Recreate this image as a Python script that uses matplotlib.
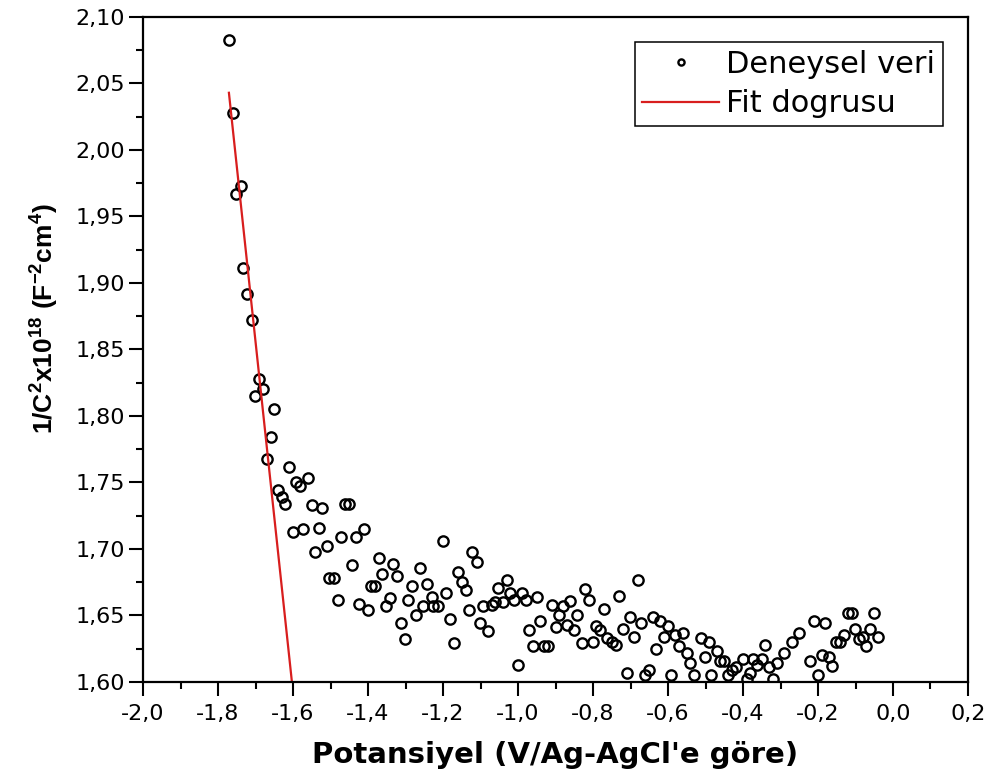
import matplotlib
matplotlib.use("Agg")
import matplotlib.pyplot as plt
from matplotlib.ticker import MultipleLocator, FuncFormatter

# Experimental data (potential V vs Ag/AgCl, 1/C^2 x1e18)
pot = [-1.771, -1.761, -1.739, -1.753, -1.733, -1.722, -1.710, -1.690, -1.679, -1.701,
       -1.651, -1.659, -1.670, -1.611, -1.561, -1.592, -1.581, -1.641, -1.630, -1.621,
       -1.550, -1.522, -1.461, -1.451, -1.601, -1.573, -1.531, -1.472, -1.432, -1.411,
       -1.541, -1.510, -1.443, -1.503, -1.491, -1.481, -1.423, -1.401, -1.372, -1.333,
       -1.362, -1.323, -1.392, -1.381, -1.341, -1.352, -1.312, -1.301, -1.261, -1.282,
       -1.242, -1.293, -1.230, -1.253, -1.226, -1.213, -1.272, -1.201, -1.192, -1.181,
       -1.171, -1.161, -1.150, -1.139, -1.122, -1.110, -1.131, -1.101, -1.081, -1.093,
       -1.070, -1.061, -1.041, -1.053, -1.030, -1.021, -1.011, -0.990, -0.980, -1.001,
       -0.971, -0.961, -0.950, -0.941, -0.930, -0.919, -0.910, -0.900, -0.891, -0.881,
       -0.870, -0.861, -0.851, -0.842, -0.830, -0.821, -0.811, -0.801, -0.792, -0.781,
       -0.772, -0.762, -0.750, -0.740, -0.731, -0.721, -0.710, -0.701, -0.691, -0.681,
       -0.671, -0.661, -0.651, -0.641, -0.632, -0.621, -0.611, -0.601, -0.592, -0.581,
       -0.571, -0.561, -0.550, -0.541, -0.531, -0.512, -0.501, -0.492, -0.485, -0.470,
       -0.461, -0.451, -0.441, -0.430, -0.420, -0.401, -0.390, -0.381, -0.373, -0.362,
       -0.350, -0.341, -0.331, -0.321, -0.310, -0.291, -0.270, -0.251, -0.221, -0.211,
       -0.201, -0.190, -0.181, -0.171, -0.162, -0.152, -0.141, -0.131, -0.121, -0.110,
       -0.101, -0.091, -0.081, -0.072, -0.061, -0.051, -0.041]
inv_c2 = [2.083, 2.028, 1.973, 1.967, 1.911, 1.892, 1.872, 1.828, 1.820, 1.815,
          1.805, 1.784, 1.768, 1.762, 1.753, 1.750, 1.747, 1.744, 1.739, 1.734,
          1.733, 1.731, 1.734, 1.734, 1.713, 1.715, 1.716, 1.709, 1.709, 1.715,
          1.698, 1.702, 1.688, 1.678, 1.678, 1.662, 1.659, 1.654, 1.693, 1.689,
          1.681, 1.680, 1.672, 1.672, 1.663, 1.657, 1.644, 1.632, 1.686, 1.672,
          1.674, 1.662, 1.664, 1.657, 1.657, 1.657, 1.650, 1.706, 1.667, 1.647,
          1.629, 1.683, 1.675, 1.669, 1.698, 1.690, 1.654, 1.644, 1.638, 1.657,
          1.658, 1.660, 1.660, 1.671, 1.677, 1.667, 1.662, 1.667, 1.662, 1.613,
          1.639, 1.627, 1.664, 1.646, 1.627, 1.627, 1.658, 1.641, 1.650, 1.657,
          1.643, 1.661, 1.639, 1.650, 1.629, 1.670, 1.662, 1.630, 1.642, 1.639,
          1.655, 1.633, 1.630, 1.628, 1.665, 1.640, 1.607, 1.649, 1.634, 1.677,
          1.644, 1.605, 1.609, 1.649, 1.625, 1.646, 1.634, 1.642, 1.605, 1.635,
          1.627, 1.637, 1.622, 1.614, 1.605, 1.633, 1.619, 1.630, 1.605, 1.623,
          1.616, 1.616, 1.605, 1.609, 1.611, 1.617, 1.602, 1.607, 1.617, 1.613,
          1.617, 1.628, 1.611, 1.602, 1.614, 1.622, 1.630, 1.637, 1.616, 1.646,
          1.605, 1.620, 1.644, 1.619, 1.612, 1.630, 1.630, 1.635, 1.652, 1.652,
          1.640, 1.632, 1.634, 1.627, 1.640, 1.652, 1.634]

# Fit line end points
fit_x = [-1.771, -1.603]
fit_y = [2.043, 1.600]

x_ticks = [-2.0, -1.8, -1.6, -1.4, -1.2, -1.0, -0.8, -0.6, -0.4, -0.2, 0.0, 0.2]
y_ticks = [1.60, 1.65, 1.70, 1.75, 1.80, 1.85, 1.90, 1.95, 2.00, 2.05, 2.10]

plt.rcParams['font.family'] = ['DejaVu Sans']
plt.rcParams['mathtext.fontset'] = 'custom'
plt.rcParams['mathtext.rm'] = 'Liberation Sans:bold'
plt.rcParams['mathtext.bf'] = 'Liberation Sans:bold'
plt.rcParams['mathtext.default'] = 'bf'

fig = plt.figure(figsize=(9.92, 7.82), dpi=100)
ax = fig.add_axes([0.1442, 0.1279, 0.8316, 0.8504])

ax.plot(pot, inv_c2, linestyle='none', marker='o', markersize=7.4,
        markerfacecolor='none', markeredgecolor='black', markeredgewidth=1.7,
        label='Deneysel veri')
ax.plot(fit_x, fit_y, color='#d81e1e', linewidth=1.6, label='Fit dogrusu')

ax.set_xlim(-2.0, 0.2)
ax.set_ylim(1.60, 2.10)
ax.set_xticks(x_ticks)
ax.set_yticks(y_ticks)
ax.xaxis.set_minor_locator(MultipleLocator(0.1))
ax.yaxis.set_minor_locator(MultipleLocator(0.025))
ax.xaxis.set_major_formatter(FuncFormatter(lambda v, p: f"{v:.1f}".replace('.', ',').replace('-0,0', '0,0')))
ax.yaxis.set_major_formatter(FuncFormatter(lambda v, p: f"{v:.2f}".replace('.', ',')))

for s in ax.spines.values():
    s.set_linewidth(1.6)
ax.tick_params(which='major', direction='out', length=10, width=1.5, labelsize=16)
ax.tick_params(which='minor', direction='out', length=5, width=1.5)
ax.tick_params(axis='x', which='major', pad=6)
ax.tick_params(axis='y', which='major', pad=3)
ax.tick_params(top=False, right=False)

ax.set_xlabel("Potansiyel (V/Ag-AgCl'e göre)", fontsize=21, fontweight='bold')
ax.xaxis.set_label_coords(0.5, -0.088)
ax.set_ylabel(r"1/C$^\mathbf{2}$x10$^\mathbf{18}$ (F$^\mathbf{-2}$cm$^\mathbf{4}$)",
              fontsize=19, fontweight='bold', family=['Liberation Sans', 'DejaVu Sans'])
ax.yaxis.set_label_coords(-0.100, 0.547)

leg = ax.legend(loc='upper right', bbox_to_anchor=(0.9697, 0.9624), fontsize=22,
                frameon=True, fancybox=False, edgecolor='black', framealpha=1,
                markerscale=0.6, handlelength=2.5, handletextpad=0.25,
                borderpad=0.25, labelspacing=0.35, borderaxespad=0)
leg.get_frame().set_linewidth(1.1)

fig.savefig('out.png', dpi=100)
